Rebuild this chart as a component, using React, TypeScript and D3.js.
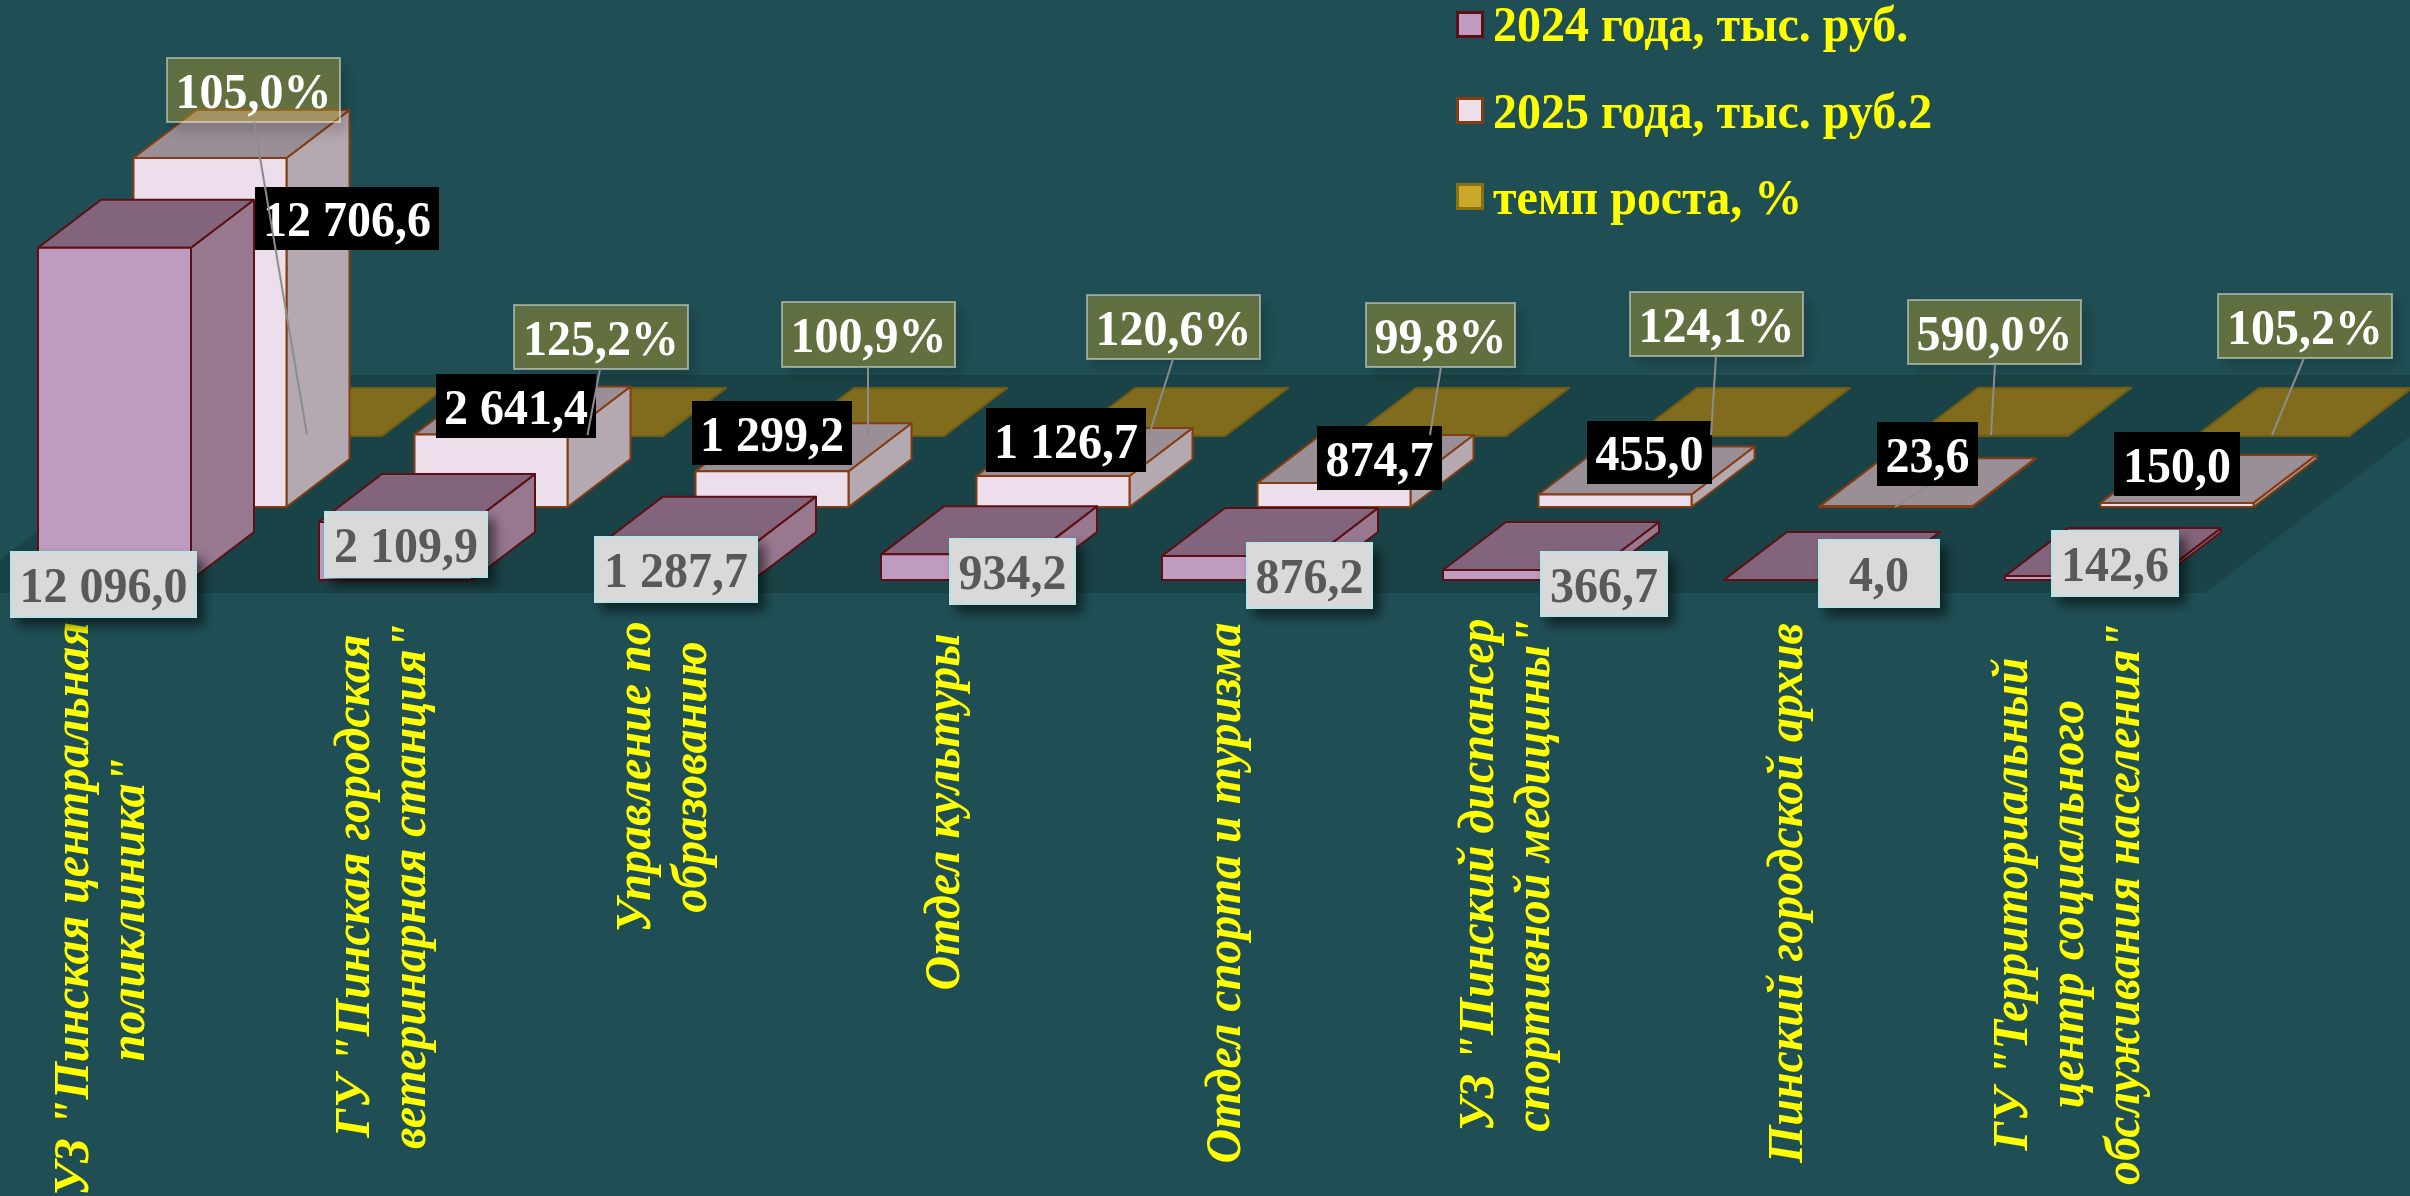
import React from "react";
import * as d3 from "d3";

// ---- data ----
const categoryLines: string[][] = [
  ['УЗ "Пинская центральная', 'поликлиника"'],
  ['ГУ "Пинская городская', 'ветеринарная станция"'],
  ['Управление по', 'образованию'],
  ['Отдел культуры'],
  ['Отдел спорта и туризма'],
  ['УЗ "Пинский диспансер', 'спортивной медицины"'],
  ['Пинский городской архив'],
  ['ГУ "Территориальный', 'центр социального', 'обслуживания населения"'],
];
const values2024 = [12096.0, 2109.9, 1287.7, 934.2, 876.2, 366.7, 4.0, 142.6];
const values2025 = [12706.6, 2641.4, 1299.2, 1126.7, 874.7, 455.0, 23.6, 150.0];
const growthRate = [105.0, 125.2, 100.9, 120.6, 99.8, 124.1, 590.0, 105.2];
const legendNames = ["2024 года, тыс. руб.", "2025 года, тыс. руб.2", "темп роста, %"];

// ---- hand-placed label layout, [x0, y0, x1, y1] in page pixels ----
const boxes2024 = [[11,552,196,617],[325,512,487,577],[595,537,757,602],[950,539,1075,604],[1247,543,1372,608],[1541,552,1667,616],[1819,540,1939,607],[2052,531,2178,596]];
const boxes2025 = [[255,187,439,250],[436,374,596,438],[692,401,852,465],[986,408,1146,472],[1317,426,1442,490],[1587,421,1712,484],[1877,422,1978,486],[2114,432,2240,496]];
const boxesRate = [[167,58,340,122],[514,305,688,369],[782,302,955,367],[1087,295,1260,359],[1366,303,1515,367],[1630,292,1803,356],[1908,300,2081,364],[2218,294,2392,358]];
const rateLeaders = [[254,122,307,435],[600,369,587.5,435],[868,367,868,435],[1173,359,1149,435],[1441,367,1430,435],[1716,356,1711,435],[1995,364,1991,435],[2304,358,2272,435]];
const labelCenterY = [909,886,777,812,893,875,893,904];

const W = 2410, H = 1196;
const FONT = "'Liberation Serif', 'Times New Roman', serif";
const barW = 153, depthX = 63, depthY = -48;
const plotLeft = 38, catStep = 281, seriesStep = 95.5;
const baseY = [580, 507, 436];
const fontSize = 48, stretch = 1.04;

const xCat = d3.scaleLinear().domain([0, 7]).range([plotLeft, plotLeft + 7 * catStep]);
const h = d3.scaleLinear().domain([0, 12706.6]).range([0, 349]);
const labelX = d3.scaleLinear().domain([0, 7]).range([116, 116 + 7 * catStep]);
const locale = d3.formatLocale({ decimal: ",", thousands: " ", grouping: [3], currency: ["", ""] });
const fmtVal = locale.format(",.1f");
const fmtRate = (v: number) => locale.format(".1f")(v) + "%";
const poly = d3.line<number[]>().x((d) => d[0]).y((d) => d[1]);
const closed = (pts: number[][]) => poly(pts) + "Z";

type Style = { front: string; top: string; side: string; stroke: string };
const style2024: Style = { front: "#bf9bbf", top: "#82657c", side: "#98788f", stroke: "#5c0f14" };
const style2025: Style = { front: "#ecdeea", top: "#9a8e97", side: "#b5a9b1", stroke: "#843c12" };
const styleRate: Style = { front: "#c9a828", top: "#806c1c", side: "#806c1c", stroke: "#6e5c14" };

function Bar({ x, base, height, s }: { x: number; base: number; height: number; s: Style }) {
  const yt = base - height;
  const r = x + barW;
  return (
    <g stroke={s.stroke} strokeWidth={2} strokeLinejoin="round">
      <path d={closed([[r, base], [r + depthX, base + depthY], [r + depthX, yt + depthY], [r, yt]])} fill={s.side} />
      <path d={closed([[x, yt], [r, yt], [r + depthX, yt + depthY], [x + depthX, yt + depthY]])} fill={s.top} />
      <path d={closed([[x, base], [r, base], [r, yt], [x, yt]])} fill={s.front} />
    </g>
  );
}

function Box({ b, text, fill, stroke, color, filter }: { b: number[]; text: string; fill: string; stroke: string; color: string; filter?: string }) {
  const [x0, y0, x1, y1] = b;
  return (
    <g>
      <rect x={x0} y={y0} width={x1 - x0} height={y1 - y0} fill={fill} stroke={stroke} strokeWidth={stroke === "none" ? 0 : 2} filter={filter} />
      <text transform={`translate(${(x0 + x1) / 2},${(y0 + y1) / 2 + 17.5}) scale(1,${stretch})`} textAnchor="middle" fontFamily={FONT} fontWeight="bold" fontSize={fontSize} fill={color}>{text}</text>
    </g>
  );
}

export default function App() {
  const idx = d3.range(8);
  return (
    <svg width={W} height={H} viewBox={`0 0 ${W} ${H}`} style={{ position: "absolute", left: 0, top: 0, display: "block" }}>
      <defs>
        <filter id="sh" x="-30%" y="-30%" width="170%" height="180%">
          <feDropShadow dx={7} dy={8} stdDeviation={6} floodColor="#000" floodOpacity={0.55} />
        </filter>
        <filter id="shSoft" x="-30%" y="-30%" width="170%" height="180%">
          <feDropShadow dx={7} dy={8} stdDeviation={7} floodColor="#000" floodOpacity={0.45} />
        </filter>
      </defs>
      <rect x={0} y={0} width={W} height={H} fill="#1f4f55" />
      <path d={closed([[-43, 593], [2205, 593], [2490, 375], [242, 375]])} fill="#1a4347" />

      {/* rear row: growth rate, nearly flat */}
      {idx.map((i) => (
        <Bar key={"r" + i} x={xCat(i) + 2 * seriesStep} base={baseY[2]} height={h(growthRate[i] / 100)} s={styleRate} />
      ))}
      {idx.map((i) => (
        <Bar key={"b" + i} x={xCat(i) + seriesStep} base={baseY[1]} height={h(values2025[i])} s={style2025} />
      ))}
      {idx.map((i) => (
        <Bar key={"a" + i} x={xCat(i)} base={baseY[0]} height={h(values2024[i])} s={style2024} />
      ))}

      {/* category labels */}
      {idx.map((i) =>
        categoryLines[i].map((line, k) => {
          const bx = labelX(i) + (k - (categoryLines[i].length - 1) / 2) * 56;
          const cy = labelCenterY[i];
          return (
            <text key={i + "-" + k} transform={`translate(${bx},${cy}) rotate(-90) scale(1,${stretch})`} textAnchor="middle"
              fontFamily={FONT} fontWeight="bold" fontStyle="italic" fontSize={fontSize} fill="#ffff00">{line}</text>
          );
        })
      )}

      {/* 2024 labels */}
      {idx.map((i) => (
        <Box key={"la" + i} b={boxes2024[i]} text={fmtVal(values2024[i])} fill="#d9d9d9" stroke="#b9e4e6" color="#595959" filter="url(#sh)" />
      ))}
      {/* 2025 labels */}
      <line x1={1928} y1={486} x2={1895} y2={507} stroke="#8c8c8c" strokeWidth={2} />
      {idx.map((i) => (
        <Box key={"lb" + i} b={boxes2025[i]} text={fmtVal(values2025[i])} fill="#000" stroke="none" color="#fff" />
      ))}
      {/* growth labels with leaders */}
      {idx.map((i) => (
        <g key={"lr" + i}>
          <Box b={boxesRate[i]} text={fmtRate(growthRate[i])} fill="rgba(201,168,40,0.35)" stroke="rgba(235,235,225,0.5)" color="#fff" filter="url(#shSoft)" />
          <line x1={rateLeaders[i][0]} y1={rateLeaders[i][1]} x2={rateLeaders[i][2]} y2={rateLeaders[i][3]} stroke="#8c8c8c" strokeWidth={2} />
        </g>
      ))}

      {/* legend */}
      {legendNames.map((name, i) => {
        const s = [style2024, style2025, styleRate][i];
        const y = [11, 97, 183][i];
        const by = [41, 127.5, 213.5][i];
        return (
          <g key={name}>
            <rect x={1457.5} y={y + 1.5} width={25} height={24} fill={s.front} stroke={i === 0 ? "#5c0f14" : i === 1 ? "#843c12" : "#8a7014"} strokeWidth={3} />
            <text transform={`translate(1493,${by}) scale(1,${stretch})`} fontFamily={FONT} fontWeight="bold" fontSize={fontSize} fill="#ffff00">{name}</text>
          </g>
        );
      })}
    </svg>
  );
}
